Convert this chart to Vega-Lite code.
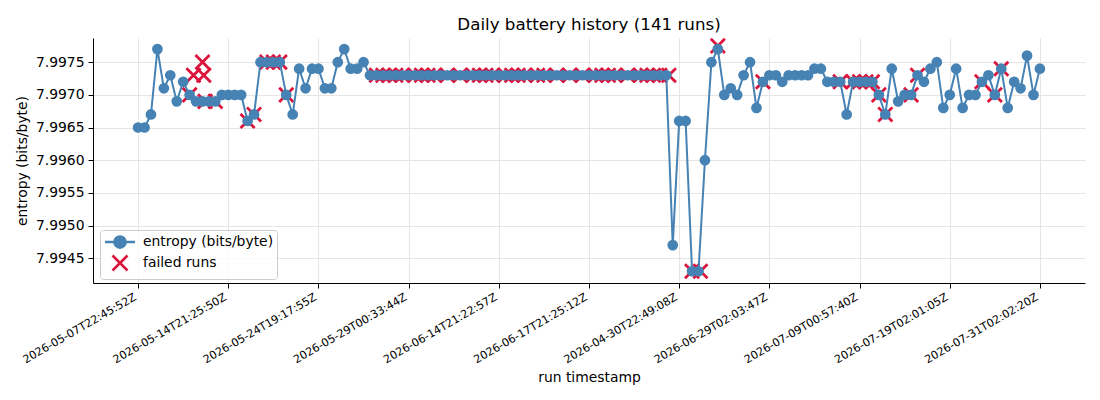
{
  "$schema": "https://vega.github.io/schema/vega-lite/v6.json",
  "width": 992,
  "height": 245,
  "autosize": {"type": "none"},
  "padding": {"left": 93, "top": 38, "right": 15, "bottom": 117},
  "background": "white",
  "title": {"text": "Daily battery history (141 runs)", "fontSize": 16.7, "fontWeight": "normal", "font": "DejaVu Sans", "color": "black", "anchor": "middle", "offset": -1},
  "config": {
    "view": {"stroke": null},
    "font": "DejaVu Sans",
    "axis": {"labelFont": "DejaVu Sans", "titleFont": "DejaVu Sans", "labelColor": "black", "titleColor": "black", "titleFontWeight": "normal", "domainColor": "black", "tickColor": "black", "tickSize": 5, "domainWidth": 1, "tickWidth": 1, "gridColor": "#e5e5e5", "gridWidth": 1, "labelFlush": false, "labelOverlap": false}
  },
  "datasets": {
    "runs": [
      {"run":0,"entropy":7.9965},{"run":1,"entropy":7.9965},{"run":2,"entropy":7.9967},{"run":3,"entropy":7.9977},{"run":4,"entropy":7.9971},
      {"run":5,"entropy":7.9973},{"run":6,"entropy":7.9969},{"run":7,"entropy":7.9972},{"run":8,"entropy":7.9970},{"run":9,"entropy":7.9969},
      {"run":10,"entropy":7.9969},{"run":11,"entropy":7.9969},{"run":12,"entropy":7.9969},{"run":13,"entropy":7.9970},{"run":14,"entropy":7.9970},
      {"run":15,"entropy":7.9970},{"run":16,"entropy":7.9970},{"run":17,"entropy":7.9966},{"run":18,"entropy":7.9967},{"run":19,"entropy":7.9975},
      {"run":20,"entropy":7.9975},{"run":21,"entropy":7.9975},{"run":22,"entropy":7.9975},{"run":23,"entropy":7.9970},{"run":24,"entropy":7.9967},
      {"run":25,"entropy":7.9974},{"run":26,"entropy":7.9971},{"run":27,"entropy":7.9974},{"run":28,"entropy":7.9974},{"run":29,"entropy":7.9971},
      {"run":30,"entropy":7.9971},{"run":31,"entropy":7.9975},{"run":32,"entropy":7.9977},{"run":33,"entropy":7.9974},{"run":34,"entropy":7.9974},
      {"run":35,"entropy":7.9975},{"run":36,"entropy":7.9973},{"run":37,"entropy":7.9973},{"run":38,"entropy":7.9973},{"run":39,"entropy":7.9973},
      {"run":40,"entropy":7.9973},{"run":41,"entropy":7.9973},{"run":42,"entropy":7.9973},{"run":43,"entropy":7.9973},{"run":44,"entropy":7.9973},
      {"run":45,"entropy":7.9973},{"run":46,"entropy":7.9973},{"run":47,"entropy":7.9973},{"run":48,"entropy":7.9973},{"run":49,"entropy":7.9973},
      {"run":50,"entropy":7.9973},{"run":51,"entropy":7.9973},{"run":52,"entropy":7.9973},{"run":53,"entropy":7.9973},{"run":54,"entropy":7.9973},
      {"run":55,"entropy":7.9973},{"run":56,"entropy":7.9973},{"run":57,"entropy":7.9973},{"run":58,"entropy":7.9973},{"run":59,"entropy":7.9973},
      {"run":60,"entropy":7.9973},{"run":61,"entropy":7.9973},{"run":62,"entropy":7.9973},{"run":63,"entropy":7.9973},{"run":64,"entropy":7.9973},
      {"run":65,"entropy":7.9973},{"run":66,"entropy":7.9973},{"run":67,"entropy":7.9973},{"run":68,"entropy":7.9973},{"run":69,"entropy":7.9973},
      {"run":70,"entropy":7.9973},{"run":71,"entropy":7.9973},{"run":72,"entropy":7.9973},{"run":73,"entropy":7.9973},{"run":74,"entropy":7.9973},
      {"run":75,"entropy":7.9973},{"run":76,"entropy":7.9973},{"run":77,"entropy":7.9973},{"run":78,"entropy":7.9973},{"run":79,"entropy":7.9973},
      {"run":80,"entropy":7.9973},{"run":81,"entropy":7.9973},{"run":82,"entropy":7.9973},{"run":83,"entropy":7.9947},{"run":84,"entropy":7.9966},
      {"run":85,"entropy":7.9966},{"run":86,"entropy":7.9943},{"run":87,"entropy":7.9943},{"run":88,"entropy":7.9960},{"run":89,"entropy":7.9975},
      {"run":90,"entropy":7.9977},{"run":91,"entropy":7.9970},{"run":92,"entropy":7.9971},{"run":93,"entropy":7.9970},{"run":94,"entropy":7.9973},
      {"run":95,"entropy":7.9975},{"run":96,"entropy":7.9968},{"run":97,"entropy":7.9972},{"run":98,"entropy":7.9973},{"run":99,"entropy":7.9973},
      {"run":100,"entropy":7.9972},{"run":101,"entropy":7.9973},{"run":102,"entropy":7.9973},{"run":103,"entropy":7.9973},{"run":104,"entropy":7.9973},
      {"run":105,"entropy":7.9974},{"run":106,"entropy":7.9974},{"run":107,"entropy":7.9972},{"run":108,"entropy":7.9972},{"run":109,"entropy":7.9972},
      {"run":110,"entropy":7.9967},{"run":111,"entropy":7.9972},{"run":112,"entropy":7.9972},{"run":113,"entropy":7.9972},{"run":114,"entropy":7.9972},
      {"run":115,"entropy":7.9970},{"run":116,"entropy":7.9967},{"run":117,"entropy":7.9974},{"run":118,"entropy":7.9969},{"run":119,"entropy":7.9970},
      {"run":120,"entropy":7.9970},{"run":121,"entropy":7.9973},{"run":122,"entropy":7.9972},{"run":123,"entropy":7.9974},{"run":124,"entropy":7.9975},
      {"run":125,"entropy":7.9968},{"run":126,"entropy":7.9970},{"run":127,"entropy":7.9974},{"run":128,"entropy":7.9968},{"run":129,"entropy":7.9970},
      {"run":130,"entropy":7.9970},{"run":131,"entropy":7.9972},{"run":132,"entropy":7.9973},{"run":133,"entropy":7.9970},{"run":134,"entropy":7.9974},
      {"run":135,"entropy":7.9968},{"run":136,"entropy":7.9972},{"run":137,"entropy":7.9971},{"run":138,"entropy":7.9976},{"run":139,"entropy":7.9970},
      {"run":140,"entropy":7.9974}
    ],
    "failed": [
      {"run":8,"entropy":7.9970},{"run":8.6,"entropy":7.9973},{"run":10,"entropy":7.9975},{"run":10.2,"entropy":7.9973},{"run":10.4,"entropy":7.9969},{"run":12,"entropy":7.9969},
      {"run":17,"entropy":7.9966},{"run":18,"entropy":7.9967},{"run":20,"entropy":7.9975},{"run":21,"entropy":7.9975},{"run":22,"entropy":7.9975},{"run":23,"entropy":7.9970},
      {"run":37,"entropy":7.9973},{"run":38,"entropy":7.9973},{"run":39,"entropy":7.9973},{"run":40,"entropy":7.9973},{"run":41,"entropy":7.9973},{"run":43,"entropy":7.9973},
      {"run":44,"entropy":7.9973},{"run":45,"entropy":7.9973},{"run":46,"entropy":7.9973},{"run":48,"entropy":7.9973},{"run":50,"entropy":7.9973},{"run":52,"entropy":7.9973},
      {"run":53,"entropy":7.9973},{"run":54,"entropy":7.9973},{"run":55,"entropy":7.9973},{"run":57,"entropy":7.9973},{"run":58,"entropy":7.9973},{"run":59,"entropy":7.9973},
      {"run":60,"entropy":7.9973},{"run":62,"entropy":7.9973},{"run":63,"entropy":7.9973},{"run":65,"entropy":7.9973},{"run":67,"entropy":7.9973},{"run":69,"entropy":7.9973},
      {"run":71,"entropy":7.9973},{"run":72,"entropy":7.9973},{"run":73,"entropy":7.9973},{"run":74,"entropy":7.9973},{"run":76,"entropy":7.9973},{"run":78,"entropy":7.9973},
      {"run":79,"entropy":7.9973},{"run":80,"entropy":7.9973},{"run":81,"entropy":7.9973},{"run":82.4,"entropy":7.9973},
      {"run":86,"entropy":7.9943},{"run":87.3,"entropy":7.9943},{"run":90,"entropy":7.99775},{"run":97,"entropy":7.9972},
      {"run":109,"entropy":7.9972},{"run":111,"entropy":7.9972},{"run":112,"entropy":7.9972},{"run":113,"entropy":7.9972},{"run":114,"entropy":7.9972},
      {"run":115,"entropy":7.9970},{"run":116,"entropy":7.9967},{"run":120,"entropy":7.9970},{"run":121,"entropy":7.9973},
      {"run":131,"entropy":7.9972},{"run":133,"entropy":7.9970},{"run":134,"entropy":7.9974}
    ],
    "legend": [
      {"series": "entropy (bits/byte)"},
      {"series": "failed runs"}
    ]
  },
  "encoding": {
    "x": {
      "field": "run", "type": "quantitative",
      "scale": {"domain": [-7, 147], "nice": false, "zero": false},
      "axis": {
        "title": "run timestamp", "titleFontSize": 13.9, "titlePadding": 6,
        "values": [0, 14, 28, 42, 56, 70, 84, 98, 112, 126, 140],
        "labelExpr": "['2026-05-07T22:45:52Z','2026-05-14T21:25:50Z','2026-05-24T19:17:55Z','2026-05-29T00:33:44Z','2026-06-14T21:22:57Z','2026-06-17T21:25:12Z','2026-04-30T22:49:08Z','2026-06-29T02:03:47Z','2026-07-09T00:57:40Z','2026-07-19T02:01:05Z','2026-07-31T02:02:20Z'][round(datum.value/14)]",
        "labelAngle": -30, "labelAlign": "right", "labelBaseline": "top", "labelFontSize": 11.1, "labelPadding": 3, "labelOffset": -6,
        "grid": true
      }
    },
    "y": {
      "field": "entropy", "type": "quantitative",
      "scale": {"domain": [7.99412, 7.99787], "nice": false, "zero": false},
      "axis": {
        "title": "entropy (bits/byte)", "titleFontSize": 13.9, "titlePadding": 6,
        "values": [7.9945, 7.995, 7.9955, 7.996, 7.9965, 7.997, 7.9975],
        "format": ".4f", "labelFontSize": 13.9, "labelPadding": 4, "grid": true
      }
    }
  },
  "layer": [
    {
      "data": {"name": "failed"},
      "mark": {"type": "point", "shape": "M-1,-1L1,1M-1,1L1,-1", "filled": false, "stroke": "#dc143c", "strokeWidth": 2.8, "size": 200, "opacity": 1}
    },
    {
      "data": {"name": "runs"},
      "mark": {"type": "line", "color": "#4682b4", "strokeWidth": 2}
    },
    {
      "data": {"name": "runs"},
      "mark": {"type": "point", "shape": "circle", "filled": true, "color": "#4682b4", "size": 115, "opacity": 1}
    },
    {
      "data": {"name": "legend"},
      "mark": {"type": "point", "filled": true, "opacity": 0},
      "encoding": {
        "x": {"value": 0},
        "y": {"value": 0},
        "color": {
          "field": "series", "type": "nominal",
          "scale": {"domain": ["entropy (bits/byte)", "failed runs"], "range": ["#4682b4", "#dc143c"]},
          "legend": {
            "title": null, "orient": "none", "legendX": 7, "legendY": 192,
            "padding": 3, "strokeColor": "#cccccc", "fillColor": "rgba(255,255,255,0.8)", "cornerRadius": 3,
            "symbolSize": 225, "symbolOffset": 8, "labelOffset": 14, "rowPadding": -3,
            "labelFontSize": 13.9, "labelFont": "DejaVu Sans", "labelColor": "black",
            "encode": {"symbols": {"update": {"stroke": {"scale": "color", "field": "value"}, "fill": {"scale": "color", "field": "value"}, "strokeWidth": {"value": 2.5}, "opacity": {"value": 1}}}}
          }
        },
        "shape": {
          "field": "series", "type": "nominal",
          "scale": {"domain": ["entropy (bits/byte)", "failed runs"], "range": ["M-2,0H2M0.75,0A0.75,0.75 0 1,1 -0.75,0A0.75,0.75 0 1,1 0.75,0Z", "M-1,-1L1,1M-1,1L1,-1"]}
        }
      }
    }
  ]
}
